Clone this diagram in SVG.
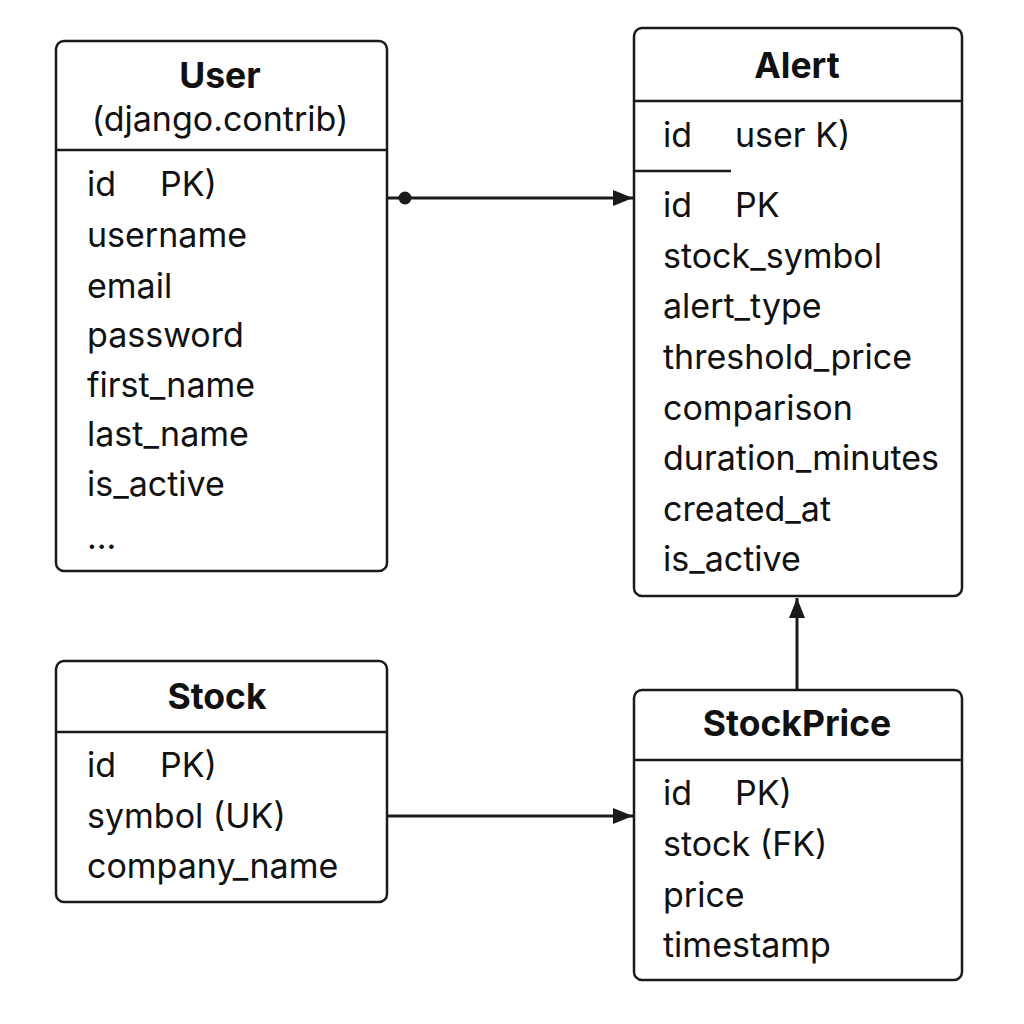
<svg xmlns="http://www.w3.org/2000/svg" width="1024" height="1024" viewBox="0 0 1024 1024">
<defs>
<style>
.box{fill:#fff;stroke:#1a1a1a;stroke-width:2.5}
.div{stroke:#1a1a1a;stroke-width:2.5}
.t{font-family:Inter,"Liberation Sans",sans-serif;font-size:34px;fill:#111}
.h{font-family:Inter,"Liberation Sans",sans-serif;font-size:35.5px;font-weight:bold;fill:#111;text-anchor:middle}
.c{stroke:#1a1a1a;stroke-width:3;fill:none}
</style>
<marker id="arr" viewBox="0 0 20 16" refX="20" refY="8" markerWidth="20" markerHeight="16" markerUnits="userSpaceOnUse" orient="auto">
<path d="M0,0 L20,8 L0,16 z" fill="#1a1a1a"/>
</marker>
</defs>
<rect width="1024" height="1024" fill="#fff"/>
<g id="user">
<rect class="box" x="56" y="41" width="331" height="530" rx="8"/>
<line class="div" x1="56" y1="150" x2="387" y2="150"/>
<text class="h" x="220" y="88">User</text>
<text class="t" x="220" y="131" text-anchor="middle">(django.contrib)</text>
<text class="t" x="87" y="196">id</text><text class="t" x="160" y="196">PK)</text>
<text class="t" x="87" y="247">username</text>
<text class="t" x="87" y="298">email</text>
<text class="t" x="87" y="347">password</text>
<text class="t" x="87" y="397">first_name</text>
<text class="t" x="87" y="446">last_name</text>
<text class="t" x="87" y="496">is_active</text>
<text class="t" x="87" y="549">...</text>
</g>
<g id="alert">
<rect class="box" x="634" y="28" width="328" height="568" rx="8"/>
<line class="div" x1="634" y1="101" x2="962" y2="101"/>
<text class="h" x="797" y="78">Alert</text>
<text class="t" x="663" y="147">id</text><text class="t" x="735" y="147">user K)</text>
<line class="div" x1="634" y1="171" x2="731" y2="171"/>
<text class="t" x="663" y="217">id</text><text class="t" x="735" y="217">PK</text>
<text class="t" x="663" y="268">stock_symbol</text>
<text class="t" x="663" y="318">alert_type</text>
<text class="t" x="663" y="369">threshold_price</text>
<text class="t" x="663" y="420">comparison</text>
<text class="t" x="663" y="470">duration_minutes</text>
<text class="t" x="663" y="521">created_at</text>
<text class="t" x="663" y="571">is_active</text>
</g>
<g id="stock">
<rect class="box" x="56" y="661" width="331" height="241" rx="8"/>
<line class="div" x1="56" y1="732" x2="387" y2="732"/>
<text class="h" x="217" y="709">Stock</text>
<text class="t" x="87" y="777">id</text><text class="t" x="160" y="777">PK)</text>
<text class="t" x="87" y="828">symbol (UK)</text>
<text class="t" x="87" y="878">company_name</text>
</g>
<g id="stockprice">
<rect class="box" x="634" y="690" width="328" height="290" rx="8"/>
<line class="div" x1="634" y1="760" x2="962" y2="760"/>
<text class="h" x="797" y="736">StockPrice</text>
<text class="t" x="663" y="805">id</text><text class="t" x="735" y="805">PK)</text>
<text class="t" x="663" y="856">stock (FK)</text>
<text class="t" x="663" y="907">price</text>
<text class="t" x="663" y="957">timestamp</text>
</g>
<g id="connectors">
<line class="c" x1="387" y1="198" x2="633" y2="198" marker-end="url(#arr)"/>
<circle cx="405" cy="198" r="6.5" fill="#1a1a1a"/>
<line class="c" x1="387" y1="816" x2="633" y2="816" marker-end="url(#arr)"/>
<line class="c" x1="797" y1="690" x2="797" y2="598" marker-end="url(#arr)"/>
</g>
</svg>
